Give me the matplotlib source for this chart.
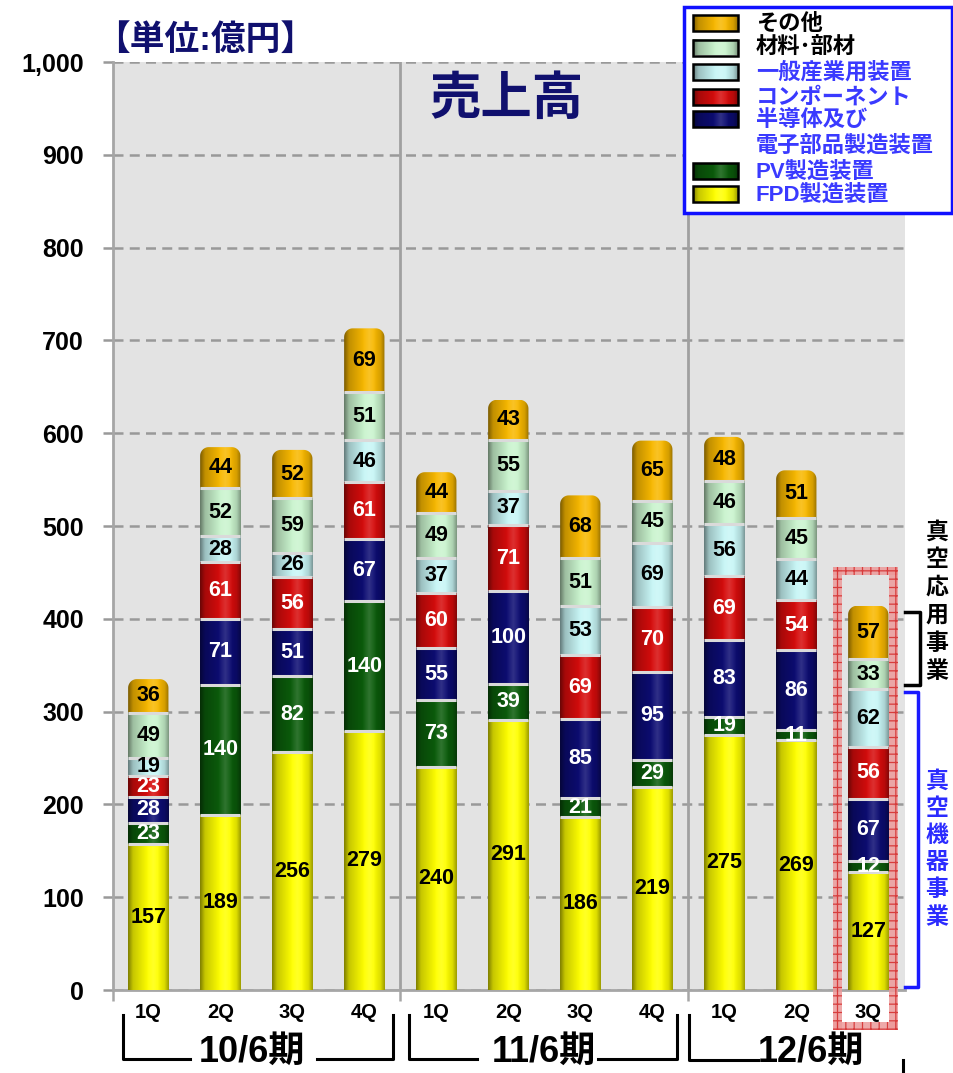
import numpy as np
import matplotlib
matplotlib.use("Agg")
import matplotlib.pyplot as plt
from matplotlib.colors import to_rgb
from matplotlib.patches import Rectangle, Polygon

plt.rcParams['font.family'] = ['Liberation Sans', 'Noto Sans CJK JP']
plt.rcParams['font.weight'] = 'bold'
plt.rcParams['hatch.linewidth'] = 0.9

# data (億円), bottom -> top
quarters = ['1Q', '2Q', '3Q', '4Q', '1Q', '2Q', '3Q', '4Q', '1Q', '2Q', '3Q']
periods = ['10/6期', '11/6期', '12/6期']
series = ['FPD製造装置', 'PV製造装置', '半導体及び\n電子部品製造装置', 'コンポーネント',
          '一般産業用装置', '材料･部材', 'その他']
fpd = [157, 189, 256, 279, 240, 291, 186, 219, 275, 269, 127]
pv = [23, 140, 82, 140, 73, 39, 21, 29, 19, 11, 12]
semi = [28, 71, 51, 67, 55, 100, 85, 95, 83, 86, 67]
comp = [23, 61, 56, 61, 60, 71, 69, 70, 69, 54, 56]
general = [19, 28, 26, 46, 37, 37, 53, 69, 56, 44, 62]
material = [49, 52, 59, 51, 49, 55, 51, 45, 46, 45, 33]
other = [36, 44, 52, 69, 44, 43, 68, 65, 48, 51, 57]
values = [fpd, pv, semi, comp, general, material, other]

colors = ['#ffff00', '#0b5c0b', '#0c0c72', '#d60c0c', '#c8f6f6', '#caf4ce', '#f8b800']
num_colors = ['black', 'white', 'white', 'white', 'black', 'black', 'black']
leg_colors = ['#3a3aff', '#3a3aff', '#3a3aff', '#3a3aff', '#3a3aff', 'black', 'black']
navy = '#10106e'


def grad(color, n=80):
    # horizontal cylinder-like shading
    c = np.array(to_rgb(color))
    t = np.linspace(0, 1, n)
    shade = np.interp(t, [0, 0.12, 0.5, 0.72, 0.9, 1], [0.5, 0.78, 1.0, 1.0, 0.86, 0.62])
    glow = np.interp(t, [0, 0.45, 0.62, 0.8, 1], [0, 0, 0.15, 0, 0])
    rgb = c[None, :] * shade[:, None]
    rgb = rgb * (1 - glow[:, None]) + glow[:, None]
    return rgb[None, :, :]


fig = plt.figure(figsize=(9.54, 10.73), dpi=100)
ax = fig.add_axes([113 / 954, 1 - 990 / 1073, (905 - 113) / 954, (990 - 62) / 1073])
ax.set_facecolor('#e3e3e3')
ax.set_autoscale_on(False)
ax.set_xlim(-0.49, 10.51)
ax.set_ylim(0, 1000)

w = 0.56
rx, ry = 0.12, 9.5
for i in range(len(quarters)):
    bottom = 0
    x0, x1 = i - w / 2, i + w / 2
    for k, vals in enumerate(values):
        v = vals[i]
        y0, y1 = bottom, bottom + v
        im = ax.imshow(grad(colors[k]), extent=(x0, x1, y0, y1), aspect='auto',
                       interpolation='bilinear', zorder=3)
        if k == len(values) - 1:
            a = np.linspace(0, np.pi / 2, 12)
            pts = [(x0, y0), (x0, y1 - ry)]
            pts += [(x0 + rx - rx * np.cos(t), y1 - ry + ry * np.sin(t)) for t in a]
            pts += [(x1 - rx + rx * np.sin(t), y1 - ry + ry * np.cos(t)) for t in a]
            pts += [(x1, y0)]
            im.set_clip_path(Polygon(pts, closed=True, transform=ax.transData))
        else:
            ax.hlines(y1, x0, x1, color='#dadada', lw=2.2, zorder=4)
        ax.text(i, (y0 + y1) / 2, str(v), ha='center', va='center', fontsize=15.5,
                fontweight='bold', color=num_colors[k], zorder=5)
        bottom = y1

ax.set_yticks(range(0, 1001, 100))
ax.set_yticklabels([f'{v:,}' for v in range(0, 1001, 100)], fontsize=18, fontweight='bold')
ax.tick_params(axis='y', length=7, width=1.8, color='#999999', pad=14)
ax.yaxis.grid(True, linestyle=(0, (4, 2.5)), color='#999999', linewidth=1.8)
ax.set_axisbelow(True)

ax.set_xticks(range(len(quarters)))
ax.set_xticklabels(quarters, fontsize=14.5, fontweight='bold')
ax.tick_params(axis='x', length=0, pad=9)
ax.set_xticks([-0.49, 3.5, 7.5], minor=True)
ax.tick_params(axis='x', which='minor', length=8, width=1.8, color='#a6a6a6')

for s in ['top', 'right']:
    ax.spines[s].set_visible(False)
for s in ['left', 'bottom']:
    ax.spines[s].set_color('#a6a6a6')
    ax.spines[s].set_linewidth(2)
for xs in [3.5, 7.5]:
    ax.axvline(xs, color='#a0a0a0', lw=2, zorder=1)

# overlay in pixel coordinates
ov = fig.add_axes([0, 0, 1, 1], zorder=5)
ov.set_xlim(0, 954)
ov.set_ylim(1073, 0)
ov.set_autoscale_on(False)
ov.axis('off')
ov.patch.set_visible(False)

ov.text(507, 100, '売上高', ha='center', va='center', fontsize=37, color=navy, fontweight='bold')
ov.text(205, 40, '【単位:億円】', ha='center', va='center', fontsize=25, color=navy,
        fontweight='bold', bbox=dict(facecolor='white', edgecolor='none', pad=1))

# legend
ov.add_patch(Rectangle((684, 7), 268, 206, facecolor='white', edgecolor='#1010ff', lw=2.5))
rows = [23, 47.5, 72, 97, 119, 171, 194]
for yc, name, col, tc in zip(rows, series[::-1], colors[::-1], leg_colors[::-1]):
    ov.imshow(grad(col), extent=(693, 738, yc + 8, yc - 8), aspect='auto',
              interpolation='bilinear', zorder=3)
    ov.add_patch(Rectangle((693, yc - 8), 45, 16, fill=False, edgecolor='black', lw=1.8, zorder=4))
    for j, line in enumerate(name.split('\n')):
        ov.text(756, yc + 1 + j * 26, line, ha='left', va='center', fontsize=16,
                color=tc, fontweight='bold')

# red hatched frame around latest quarter
for (fx, fy, fw, fh) in [(833, 567, 9, 463), (889, 567, 9, 463), (833, 567, 65, 8), (833, 1022, 65, 8)]:
    ov.add_patch(Rectangle((fx, fy), fw, fh, facecolor='#ec9a9a', edgecolor='#d42a2a',
                           hatch='++', lw=0, alpha=0.85))

# business brackets
ov.plot([905, 920, 920, 905], [612, 612, 685, 685], color='black', lw=2.5, solid_joinstyle='round')
ov.plot([905, 918, 918, 905], [692, 692, 987, 987], color='#1a1aff', lw=2.5)
for k, ch in enumerate('真空応用事業'):
    ov.text(937, 532 + k * 27.8, ch, ha='center', va='center', fontsize=16.5, fontweight='bold', color='black')
for k, ch in enumerate('真空機器事業'):
    ov.text(937, 781 + k * 27.2, ch, ha='center', va='center', fontsize=16.5, fontweight='bold', color='#2b2bff')

# period brackets under the axis
lk = dict(color='black', lw=2.2)
ov.plot([123, 123, 190], [1015, 1059, 1059], **lk)
ov.plot([317, 393, 393], [1059, 1059, 1015], **lk)
ov.plot([409, 409, 477], [1015, 1059, 1059], **lk)
ov.plot([598, 677, 677], [1059, 1059, 1015], **lk)
ov.plot([689, 689, 758], [1015, 1060, 1060], **lk)
ov.plot([903, 903], [1060, 1073], **lk)
for xc, p in zip([252, 544, 811], periods):
    ov.text(xc, 1052, p, ha='center', va='center', fontsize=26, fontweight='bold')

fig.savefig('out.png', dpi=100)
